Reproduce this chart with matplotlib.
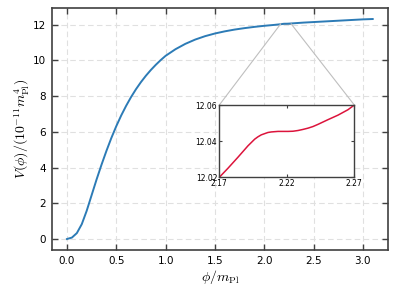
import matplotlib
matplotlib.use("Agg")
import matplotlib.pyplot as plt
from mpl_toolkits.axes_grid1.inset_locator import mark_inset

plt.rcParams['mathtext.fontset'] = 'cm'

# Potential V(phi) in units of 1e-11 m_Pl^4
phi = [0.0, 0.05, 0.1, 0.15, 0.2, 0.25, 0.3, 0.35, 0.4, 0.45, 0.5,
       0.55, 0.6, 0.65, 0.7, 0.75, 0.8, 0.85, 0.9, 0.95, 1.0,
       1.1, 1.2, 1.3, 1.4, 1.5, 1.6, 1.7, 1.8, 1.9, 2.0, 2.1,
       2.17, 2.1764, 2.1838, 2.1912, 2.1962, 2.1986, 2.2011, 2.206, 2.2085,
       2.2135, 2.2209, 2.2246, 2.2283, 2.232, 2.2357, 2.2394, 2.2431, 2.2468,
       2.2505, 2.2579, 2.2653, 2.27,
       2.3, 2.4, 2.5, 2.6, 2.7, 2.8, 2.9, 3.0, 3.1]
V = [0.0, 0.08, 0.33, 0.83, 1.58, 2.455, 3.33, 4.155, 4.93, 5.655, 6.315,
     6.915, 7.455, 7.945, 8.385, 8.78, 9.135, 9.455, 9.745, 10.01, 10.25,
     10.62, 10.92, 11.16, 11.35, 11.5, 11.62, 11.72, 11.8, 11.87, 11.93, 11.98,
     12.02, 12.025, 12.0311, 12.0374, 12.0411, 12.0424, 12.0435, 12.0448, 12.0451,
     12.0454, 12.0454, 12.0455, 12.0459, 12.0465, 12.0472, 12.0481, 12.0493, 12.0506,
     12.0519, 12.0544, 12.0574, 12.06,
     12.072, 12.11, 12.14, 12.17, 12.2, 12.23, 12.26, 12.29, 12.31]

x_ticks = [0.0, 0.5, 1.0, 1.5, 2.0, 2.5, 3.0]
y_ticks = [0, 2, 4, 6, 8, 10, 12]
inset_xlim = (2.17, 2.27)
inset_ylim = (12.02, 12.06)
inset_xticks = [2.17, 2.22, 2.27]
inset_yticks = [12.02, 12.04, 12.06]

spine_c = '0.25'

fig = plt.figure(figsize=(3.97, 2.97), dpi=100)
ax = fig.add_axes([0.1302, 0.1582, 0.8471, 0.8148])
ax.plot(phi, V, color='#2c7bb6', lw=1.4, zorder=3)
ax.set_xticks(x_ticks)
ax.set_xticklabels([f"{t:.1f}" for t in x_ticks])
ax.set_yticks(y_ticks)
ax.grid(True, color='#e0e0e0', linestyle=(0, (5, 3)), lw=0.8)
ax.tick_params(direction='in', top=True, right=True, length=4, width=1,
               color=spine_c, labelsize=7.5, pad=4)
for s in ax.spines.values():
    s.set_color(spine_c)
    s.set_linewidth(1.2)
ax.set_xlabel(r'$\phi/m_{\rm Pl}$', fontsize=10, labelpad=2)
ax.set_ylabel(r'$V(\phi)/(10^{-11}m_{\rm Pl}^4)$', fontsize=10, labelpad=1)

axins = fig.add_axes([0.5524, 0.4030, 0.3401, 0.2434])
axins.plot(phi, V, color='#dc143c', lw=1.1)
axins.set_xlim(*inset_xlim)
axins.set_ylim(*inset_ylim)
axins.set_xticks(inset_xticks)
axins.set_xticklabels([f"{t:.2f}" for t in inset_xticks])
axins.set_yticks(inset_yticks)
axins.set_yticklabels([f"{t:.2f}" for t in inset_yticks])
axins.tick_params(direction='in', top=True, right=True, length=2, width=0.8,
                  color=spine_c, labelsize=5.5, pad=1.5)
for s in axins.spines.values():
    s.set_color(spine_c)
    s.set_linewidth(1.0)

mark_inset(ax, axins, loc1=2, loc2=1, fc='none', ec='0.75', lw=0.8)

fig.savefig('out.png', dpi=100)
